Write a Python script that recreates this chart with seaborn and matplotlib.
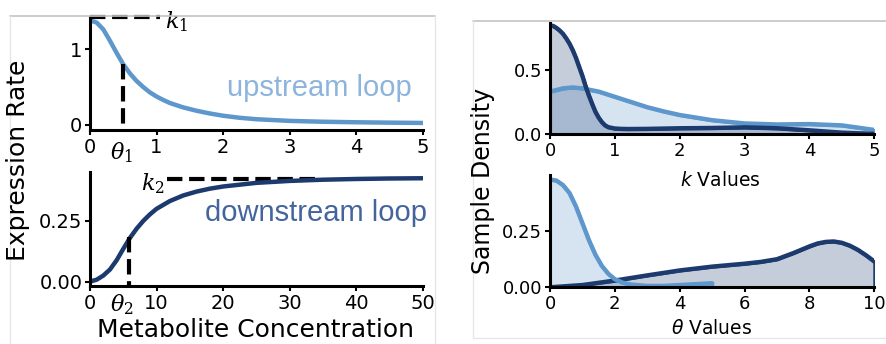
import numpy as np
import pandas as pd
import matplotlib
matplotlib.use("Agg")
import matplotlib.pyplot as plt
from matplotlib.lines import Line2D
import seaborn as sns

# ---------------- data ----------------
up_x = [0, 0.1, 0.2, 0.3, 0.4, 0.5, 0.6, 0.7, 0.8, 0.9, 1.0, 1.1, 1.2, 1.4, 1.6, 1.8, 2.0, 2.25, 2.5, 3.0, 3.5, 4.0, 4.5, 5.0]
up_y = [1.38, 1.35, 1.26, 1.11, 0.95, 0.80, 0.68, 0.58, 0.50, 0.43, 0.375, 0.33, 0.29, 0.232, 0.188, 0.152, 0.122, 0.095, 0.076, 0.054, 0.043, 0.036, 0.031, 0.027]

down_x = [0, 1, 2, 3, 4, 5, 6, 7, 8, 9, 10, 12, 14, 16, 18, 20, 25, 30, 35, 40, 45, 50]
down_y = [0.0, 0.008, 0.025, 0.05, 0.088, 0.135, 0.18, 0.218, 0.25, 0.277, 0.30, 0.332, 0.355, 0.371, 0.383, 0.392, 0.407, 0.415, 0.42, 0.423, 0.425, 0.426]

k1, theta1, theta1_y = 1.42, 0.5, 0.80
k2, theta2, theta2_y = 0.422, 5.8, 0.185

k_x_dark = [0, 0.05, 0.1, 0.15, 0.2, 0.25, 0.3, 0.35, 0.4, 0.45, 0.5, 0.55, 0.6, 0.65, 0.7, 0.75, 0.8, 0.85, 0.9, 1.0, 1.1, 1.2, 1.5, 2.0, 2.5, 3.0, 3.5, 4.0, 4.5, 5.0]
k_y_dark = [0.84, 0.835, 0.82, 0.80, 0.775, 0.74, 0.70, 0.65, 0.59, 0.52, 0.45, 0.37, 0.30, 0.235, 0.175, 0.13, 0.095, 0.07, 0.056, 0.046, 0.043, 0.042, 0.043, 0.048, 0.05, 0.055, 0.048, 0.032, 0.014, 0.005]
k_x_light = [0, 0.2, 0.35, 0.5, 0.75, 1.0, 1.25, 1.5, 1.75, 2.0, 2.5, 3.0, 3.5, 4.0, 4.5, 5.0]
k_y_light = [0.33, 0.355, 0.362, 0.355, 0.33, 0.29, 0.25, 0.21, 0.178, 0.15, 0.11, 0.085, 0.077, 0.08, 0.07, 0.035]

t_x_light = [0, 0.2, 0.4, 0.6, 0.8, 1.0, 1.2, 1.4, 1.6, 1.8, 2.0, 2.25, 2.5, 3.0, 3.5, 4.0, 4.5, 5.0]
t_y_light = [0.48, 0.475, 0.455, 0.42, 0.36, 0.285, 0.21, 0.145, 0.095, 0.06, 0.036, 0.02, 0.012, 0.006, 0.006, 0.01, 0.014, 0.018]
t_x_dark = [0, 1, 2, 3, 4, 5, 6, 6.5, 7, 7.5, 8, 8.25, 8.5, 8.75, 9, 9.25, 9.5, 9.75, 10]
t_y_dark = [0.0, 0.01, 0.03, 0.053, 0.075, 0.092, 0.105, 0.113, 0.125, 0.152, 0.182, 0.195, 0.202, 0.204, 0.198, 0.185, 0.166, 0.142, 0.115]

LIGHT = "#5e97cb"
DARK = "#1c3a6e"

sns.set_style("ticks")
plt.rcParams["font.family"] = ["DejaVu Sans"]
plt.rcParams["text.color"] = "black"
plt.rcParams["axes.labelcolor"] = "black"
plt.rcParams["xtick.color"] = "black"
plt.rcParams["ytick.color"] = "black"

fig = plt.figure(figsize=(8.86, 3.44), dpi=100)
W, H = 886.0, 344.0

def add_ax(x0, x1, ytop, ybot):
    return fig.add_axes([x0 / W, 1 - ybot / H, (x1 - x0) / W, (ybot - ytop) / H])

def style(ax, fs):
    sns.despine(ax=ax)
    ax.tick_params(axis="both", which="major", labelsize=fs, width=1.5, length=3.5,
                   color="black", labelcolor="black", pad=2, direction="out")
    for s in ("left", "bottom"):
        ax.spines[s].set_linewidth(2.2)
        ax.spines[s].set_color("black")
    ax.set_xlabel("")
    ax.set_ylabel("")

# ---------------- frames ----------------
frame_top = "#c4c4c4"
frame_side = "#e6e6e6"
fig.add_artist(Line2D([10 / W, 435 / W], [1 - 16 / H, 1 - 16 / H], color=frame_top, lw=1.2, transform=fig.transFigure))
fig.add_artist(Line2D([10 / W, 10 / W], [1 - 16 / H, 0], color=frame_side, lw=1.0, transform=fig.transFigure))
fig.add_artist(Line2D([435 / W, 435 / W], [1 - 16 / H, 0], color=frame_side, lw=1.0, transform=fig.transFigure))
fig.add_artist(Line2D([473 / W, 886 / W], [1 - 21 / H, 1 - 21 / H], color=frame_top, lw=1.2, transform=fig.transFigure))
fig.add_artist(Line2D([473 / W, 473 / W], [1 - 21 / H, 1 - 338 / H], color=frame_side, lw=1.0, transform=fig.transFigure))
fig.add_artist(Line2D([473 / W, 886 / W], [1 - 338 / H, 1 - 338 / H], color=frame_side, lw=1.0, transform=fig.transFigure))

MATHFONT = "dejavuserif"

# ---------------- left top: upstream ----------------
ax1 = add_ax(90, 422.7, 16.5, 130)
sns.lineplot(x=up_x, y=up_y, ax=ax1, color=LIGHT, lw=3.2)
ax1.set_xlim(0, 5)
ax1.set_ylim(-0.066, 1.43)
ax1.set_xticks([0, 1, 2, 3, 4, 5])
ax1.set_yticks([0, 1])
style(ax1, 14)
ax1.plot([0, 1.05], [k1, k1], ls="--", color="black", lw=3, clip_on=False)
ax1.plot([theta1, theta1], [theta1_y, 0], ls="--", color="black", lw=3, clip_on=False)
ax1.text(1.13, 1.36, r"$k_1$", fontsize=16, math_fontfamily=MATHFONT, ha="left", va="center")
ax1.text(0.48, -0.36, r"$\theta_1$", fontsize=16, math_fontfamily=MATHFONT, ha="center", va="center")
ax1.text(2.06, 0.49, "upstream loop", fontsize=21, family="Liberation Sans", color="#8db4dc",
         ha="left", va="center")

# ---------------- left bottom: downstream ----------------
ax2 = add_ax(90, 422.7, 171.7, 286)
sns.lineplot(x=down_x, y=down_y, ax=ax2, color=DARK, lw=3.2)
ax2.set_xlim(0, 50)
ax2.set_ylim(-0.018, 0.453)
ax2.set_xticks([0, 10, 20, 30, 40, 50])
ax2.set_yticks([0.0, 0.25])
ax2.set_yticklabels(["0.00", "0.25"])
style(ax2, 14)
ax2.plot([11.5, 34.6], [k2, k2], ls="--", color="black", lw=3, zorder=1)
ax2.plot([theta2, theta2], [theta2_y, -0.018], ls="--", color="black", lw=3, clip_on=False)
ax2.text(11.2, 0.405, r"$k_2$", fontsize=16, math_fontfamily=MATHFONT, ha="right", va="center")
ax2.text(4.8, -0.094, r"$\theta_2$", fontsize=16, math_fontfamily=MATHFONT, ha="center", va="center")
ax2.text(17.3, 0.283, "downstream loop", fontsize=21, family="Liberation Sans", color="#44659c",
         ha="left", va="center")

fig.text(18 / W, 1 - 160 / H, "Expression Rate", rotation=90, fontsize=18, ha="center", va="center", color="black")
fig.text(256 / W, 1 - 330 / H, "Metabolite Concentration", fontsize=18, ha="center", va="center", color="black")

# ---------------- right top: k densities ----------------
def dens(ax, xs, ys, color):
    ax.fill_between(xs, 0, ys, facecolor=matplotlib.colors.to_rgba(color, 0.25),
                    edgecolor=color, linewidth=2.2)
    sns.lineplot(x=xs, y=ys, ax=ax, color=color, lw=3.2)

ax3 = add_ax(550, 874.3, 23.3, 134.5)
dens(ax3, k_x_light, k_y_light, LIGHT)
dens(ax3, k_x_dark, k_y_dark, DARK)
ax3.set_xlim(0, 5)
ax3.set_ylim(0, 0.856)
ax3.set_xticks([0, 1, 2, 3, 4, 5])
ax3.set_yticks([0.0, 0.5])
style(ax3, 13)
fig.text(720 / W, 1 - 180 / H, r"$k$ Values", fontsize=13.5, ha="center", va="center", color="black")

# ---------------- right bottom: theta densities ----------------
ax4 = add_ax(550, 874.3, 175, 287.3)
dens(ax4, t_x_dark, t_y_dark, DARK)
dens(ax4, t_x_light, t_y_light, LIGHT)
ax4.set_xlim(0, 10)
ax4.set_ylim(0, 0.50)
ax4.set_xticks([0, 2, 4, 6, 8, 10])
ax4.set_yticks([0.0, 0.25])
ax4.set_yticklabels(["0.00", "0.25"])
style(ax4, 13)
fig.text(712 / W, 1 - 328 / H, r"$\theta$ Values", fontsize=13.5, ha="center", va="center", color="black")

fig.text(483 / W, 1 - 181 / H, "Sample Density", rotation=90, fontsize=17, ha="center", va="center", color="black")

fig.savefig("out.png", dpi=100)
